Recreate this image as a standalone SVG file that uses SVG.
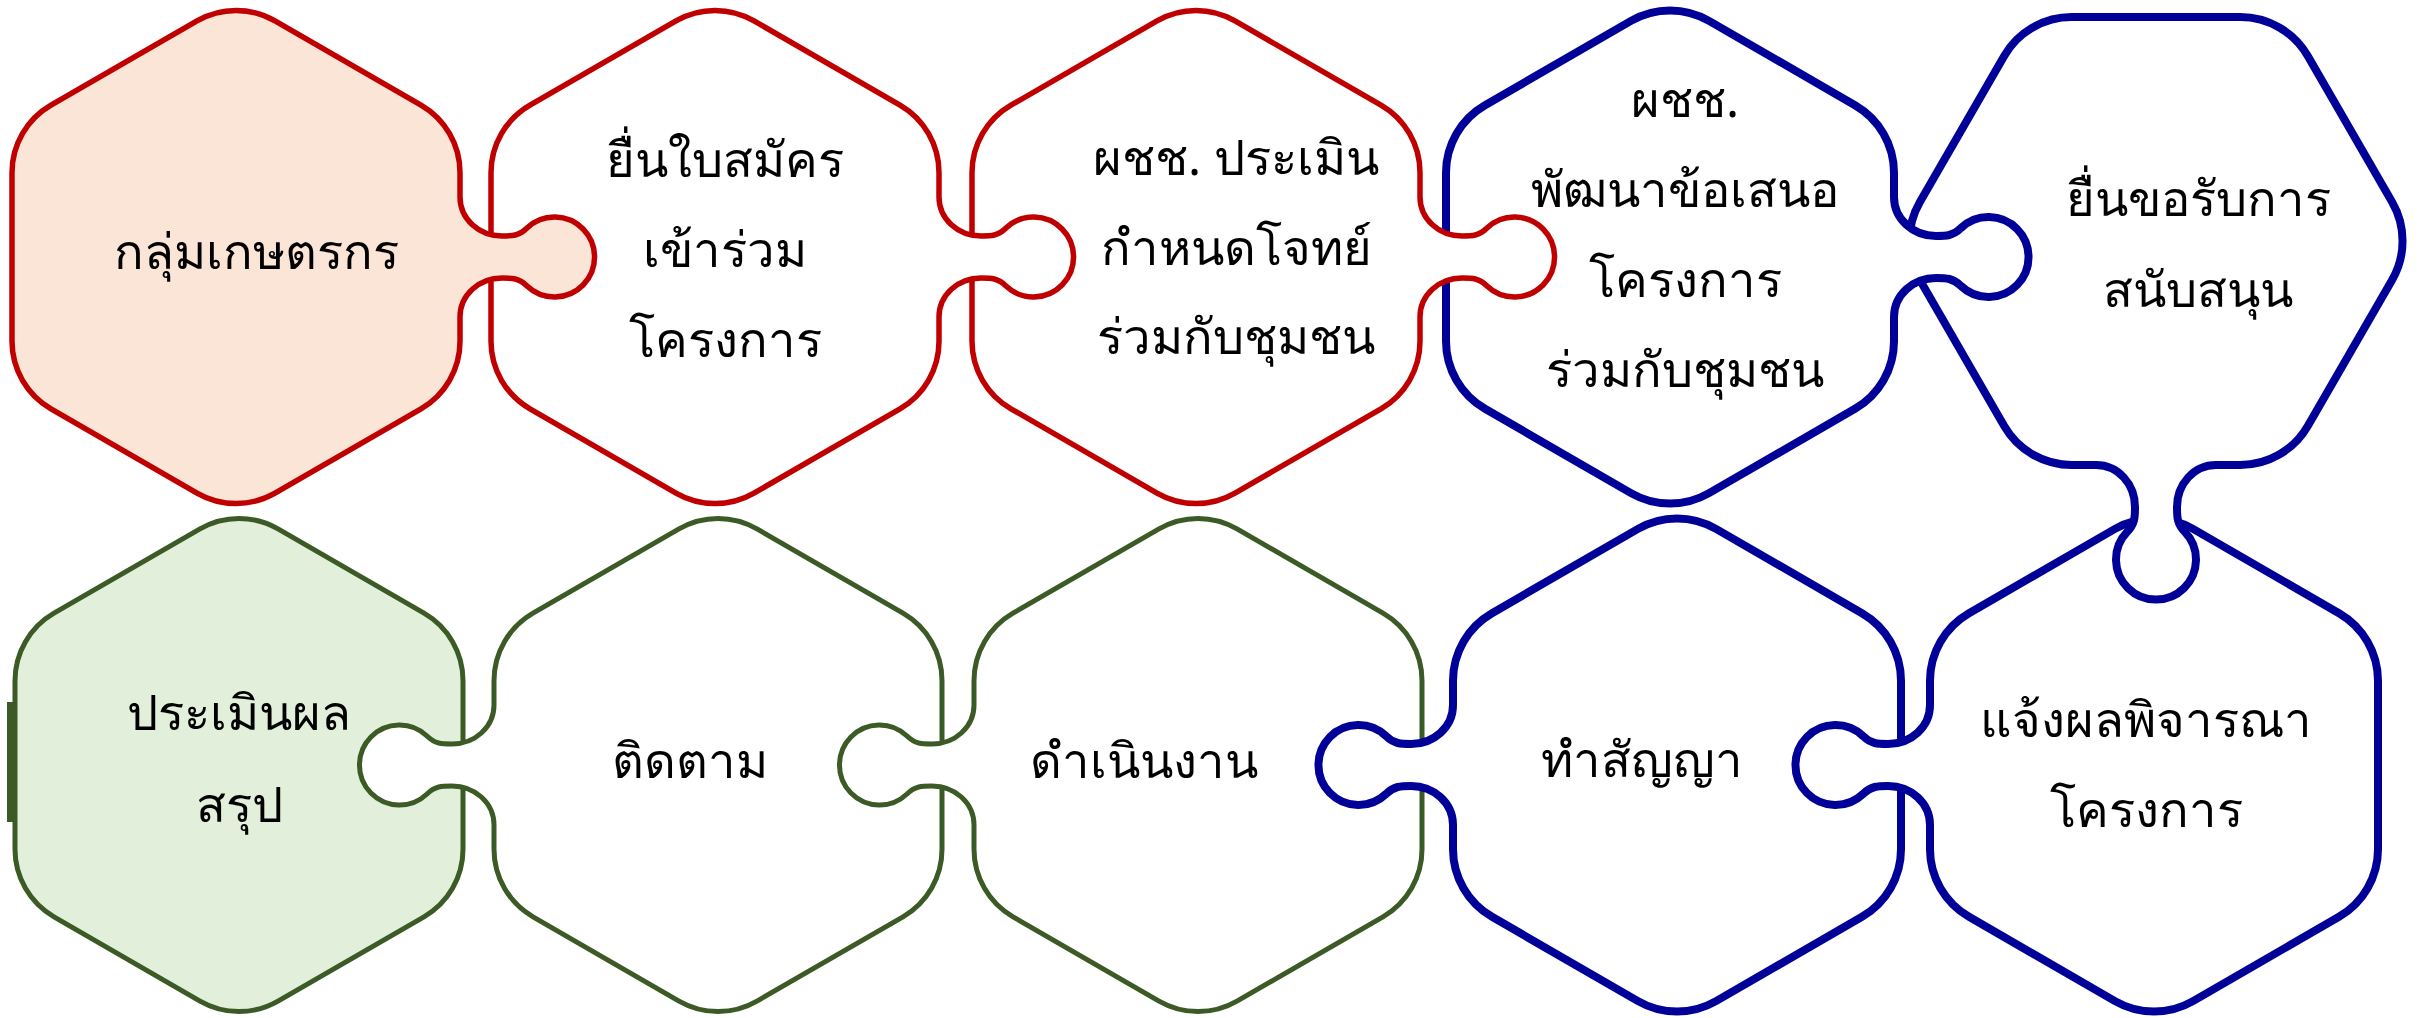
<svg xmlns="http://www.w3.org/2000/svg" width="2420" height="1018" viewBox="0 0 2420 1018">
<style>
.red{fill:#fff;stroke:#C00000;stroke-width:5.5;stroke-linejoin:round}
.blue{fill:#fff;stroke:#000099;stroke-width:8;stroke-linejoin:round}
.green{fill:#fff;stroke:#3B5A25;stroke-width:5;stroke-linejoin:round}
.pink{fill:#FBE5D6}
.lgreen{fill:#E2EFDA}
text{font-family:'Noto Sans','DejaVu Sans',sans-serif;font-size:49px;fill:#000;text-anchor:middle}
</style>
<rect width="2420" height="1018" fill="#fff"/>
<g id="connectors"/>
<g id="n6">
<path class="green lgreen" d="M 278 528.9 L 424 613.2 A 78 78 0 0 1 463 680.7 L 463 849.3 A 78 78 0 0 1 424 916.8 L 278 1001.1 A 78 78 0 0 1 200 1001.1 L 54 916.8 A 78 78 0 0 1 15 849.3 L 15 680.7 A 78 78 0 0 1 54 613.2 L 200 528.9 A 78 78 0 0 1 278 528.9 Z"/>
<rect x="7" y="702" width="6" height="120" fill="#3B5A25"/>
<text x="239" y="730">ประเมินผล</text>
<text x="239" y="822">สรุป</text>
</g>
<g id="n7">
<path class="green" d="M 757 528.9 L 903 613.2 A 78 78 0 0 1 942 680.7 L 942 849.3 A 78 78 0 0 1 903 916.8 L 757 1001.1 A 78 78 0 0 1 679 1001.1 L 533 916.8 A 78 78 0 0 1 494 849.3 L 494 825 C 494 803 475 786 452 786 C 442 786 435 786 427 794 A 40 40 0 1 1 427 736 C 435 744 442 744 452 744 C 475 744 494 727 494 705 L 494 680.7 A 78 78 0 0 1 533 613.2 L 679 528.9 A 78 78 0 0 1 757 528.9 Z"/>
<text x="690" y="778">ติดตาม</text>
</g>
<g id="n8">
<path class="green" d="M 1237 528.9 L 1383 613.2 A 78 78 0 0 1 1422 680.7 L 1422 849.3 A 78 78 0 0 1 1383 916.8 L 1237 1001.1 A 78 78 0 0 1 1159 1001.1 L 1013 916.8 A 78 78 0 0 1 974 849.3 L 974 825 C 974 803 955 786 932 786 C 922 786 915 786 907 794 A 40 40 0 1 1 907 736 C 915 744 922 744 932 744 C 955 744 974 727 974 705 L 974 680.7 A 78 78 0 0 1 1013 613.2 L 1159 528.9 A 78 78 0 0 1 1237 528.9 Z"/>
<text x="1144" y="778">ดำเนินงาน</text>
</g>
<g id="n9">
<path class="blue" d="M 1716 528.9 L 1862 613.2 A 78 78 0 0 1 1901 680.7 L 1901 849.3 A 78 78 0 0 1 1862 916.8 L 1716 1001.1 A 78 78 0 0 1 1638 1001.1 L 1492 916.8 A 78 78 0 0 1 1453 849.3 L 1453 825 C 1453 803 1434 786 1411 786 C 1401 786 1394 786 1386 794 A 40 40 0 1 1 1386 736 C 1394 744 1401 744 1411 744 C 1434 744 1453 727 1453 705 L 1453 680.7 A 78 78 0 0 1 1492 613.2 L 1638 528.9 A 78 78 0 0 1 1716 528.9 Z"/>
<text x="1642" y="777">ทำสัญญา</text>
</g>
<g id="n10">
<path class="blue" d="M 2193 528.9 L 2339 613.2 A 78 78 0 0 1 2378 680.7 L 2378 849.3 A 78 78 0 0 1 2339 916.8 L 2193 1001.1 A 78 78 0 0 1 2115 1001.1 L 1969 916.8 A 78 78 0 0 1 1930 849.3 L 1930 825 C 1930 803 1911 786 1888 786 C 1878 786 1871 786 1863 794 A 40 40 0 1 1 1863 736 C 1871 744 1878 744 1888 744 C 1911 744 1930 727 1930 705 L 1930 680.7 A 78 78 0 0 1 1969 613.2 L 2115 528.9 A 78 78 0 0 1 2193 528.9 Z"/>
<text x="2146" y="737">แจ้งผลพิจารณา</text>
<text x="2146" y="827">โครงการ</text>
</g>
<g id="n5">
<path class="blue" d="M 2071.7 17 L 2240.3 17 A 78 78 0 0 1 2307.8 56 L 2392.1 202 A 78 78 0 0 1 2392.1 280 L 2307.8 426 A 78 78 0 0 1 2240.3 465 L 2216 465 C 2194 465 2177 484 2177 507 C 2177 517 2177 524 2185 532 A 40 40 0 1 1 2127 532 C 2135 524 2135 517 2135 507 C 2135 484 2118 465 2096 465 L 2071.7 465 A 78 78 0 0 1 2004.2 426 L 1919.9 280 A 78 78 0 0 1 1919.9 202 L 2004.2 56 A 78 78 0 0 1 2071.7 17 Z"/>
<text x="2198" y="216">ยื่นขอรับการ</text>
<text x="2198" y="307">สนับสนุน</text>
</g>
<g id="n4">
<path class="blue" d="M 1709 20.9 L 1855 105.2 A 78 78 0 0 1 1894 172.7 L 1894 197 C 1894 219 1913 236 1936 236 C 1946 236 1953 236 1961 228 A 40 40 0 1 1 1961 286 C 1953 278 1946 278 1936 278 C 1913 278 1894 295 1894 317 L 1894 341.3 A 78 78 0 0 1 1855 408.8 L 1709 493.1 A 78 78 0 0 1 1631 493.1 L 1485 408.8 A 78 78 0 0 1 1446 341.3 L 1446 172.7 A 78 78 0 0 1 1485 105.2 L 1631 20.9 A 78 78 0 0 1 1709 20.9 Z"/>
<text x="1685" y="117">ผชช.</text>
<text x="1685" y="207">พัฒนาข้อเสนอ</text>
<text x="1685" y="297">โครงการ</text>
<text x="1685" y="387">ร่วมกับชุมชน</text>
</g>
<g id="n3">
<path class="red" d="M 1235 20.9 L 1381 105.2 A 78 78 0 0 1 1420 172.7 L 1420 197 C 1420 219 1439 236 1462 236 C 1472 236 1479 236 1487 228 A 40 40 0 1 1 1487 286 C 1479 278 1472 278 1462 278 C 1439 278 1420 295 1420 317 L 1420 341.3 A 78 78 0 0 1 1381 408.8 L 1235 493.1 A 78 78 0 0 1 1157 493.1 L 1011 408.8 A 78 78 0 0 1 972 341.3 L 972 172.7 A 78 78 0 0 1 1011 105.2 L 1157 20.9 A 78 78 0 0 1 1235 20.9 Z"/>
<text x="1236" y="175">ผชช. ประเมิน</text>
<text x="1236" y="265">กำหนดโจทย์</text>
<text x="1236" y="354">ร่วมกับชุมชน</text>
</g>
<g id="n2">
<path class="red" d="M 754 20.9 L 900 105.2 A 78 78 0 0 1 939 172.7 L 939 197 C 939 219 958 236 981 236 C 991 236 998 236 1006 228 A 40 40 0 1 1 1006 286 C 998 278 991 278 981 278 C 958 278 939 295 939 317 L 939 341.3 A 78 78 0 0 1 900 408.8 L 754 493.1 A 78 78 0 0 1 676 493.1 L 530 408.8 A 78 78 0 0 1 491 341.3 L 491 172.7 A 78 78 0 0 1 530 105.2 L 676 20.9 A 78 78 0 0 1 754 20.9 Z"/>
<text x="725" y="177">ยื่นใบสมัคร</text>
<text x="725" y="267">เข้าร่วม</text>
<text x="725" y="357">โครงการ</text>
</g>
<g id="n1">
<path class="red pink" d="M 275 20.9 L 421 105.2 A 78 78 0 0 1 460 172.7 L 460 197 C 460 219 479 236 502 236 C 512 236 519 236 527 228 A 40 40 0 1 1 527 286 C 519 278 512 278 502 278 C 479 278 460 295 460 317 L 460 341.3 A 78 78 0 0 1 421 408.8 L 275 493.1 A 78 78 0 0 1 197 493.1 L 51 408.8 A 78 78 0 0 1 12 341.3 L 12 172.7 A 78 78 0 0 1 51 105.2 L 197 20.9 A 78 78 0 0 1 275 20.9 Z"/>
<text x="256" y="269">กลุ่มเกษตรกร</text>
</g>
</svg>
